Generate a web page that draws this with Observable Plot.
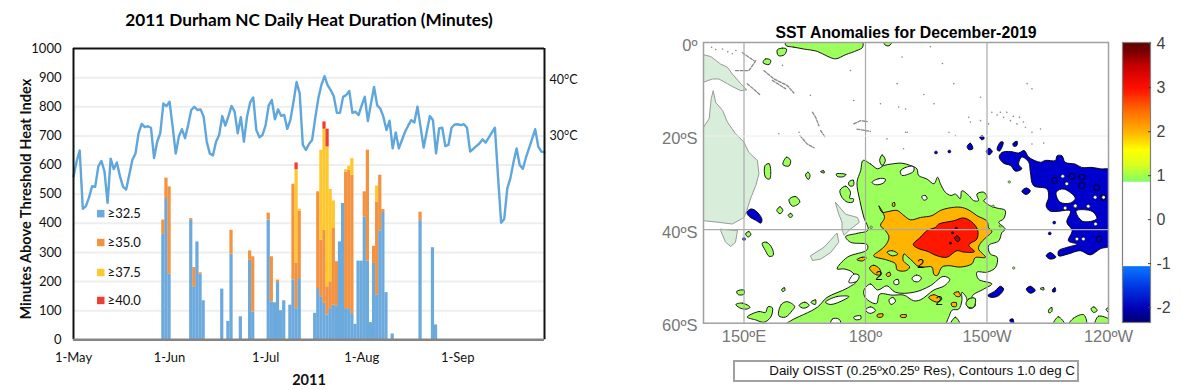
<!DOCTYPE html>
<html><head><meta charset="utf-8">
<script src="https://cdn.jsdelivr.net/npm/d3@7"></script>
<script src="https://cdn.jsdelivr.net/npm/@observablehq/plot@0.6"></script>
<style>
html,body{margin:0;padding:0;background:#fff;overflow:hidden}
#root{position:relative;width:1181px;height:390px}
#root svg{position:absolute;top:0;background:transparent}
#cap{position:absolute;left:733px;top:360px;width:340px;height:18px;border:2px solid #a0a0a0;background:#fff;font:13.4px "Liberation Sans",sans-serif;line-height:18px;text-align:right;padding-right:2px;color:#111;white-space:nowrap}
</style></head><body><div id="root"><div id="cap">Daily OISST (0.25ºx0.25º Res), Contours 1.0 deg C</div></div>
<script>
// ---------- left chart data ----------
const lineValues=[561,612,650,450,459,488,527,525,595,614,578,470,622,586,609,561,525,516,567,618,639,709,741,730,733,728,624,680,709,811,802,817,732,639,698,723,692,737,789,800,789,791,766,680,639,633,680,703,768,735,768,803,783,709,764,680,766,815,832,720,695,703,737,805,823,757,791,769,772,724,755,817,885,845,669,652,672,686,760,828,875,905,874,857,836,779,779,834,840,854,779,783,771,805,834,751,811,868,805,794,766,720,752,657,712,657,686,714,735,754,746,800,731,660,714,768,754,640,726,728,665,669,728,739,740,737,740,728,646,655,665,674,688,677,694,711,728,560,402,415,520,555,610,657,600,587,625,657,690,723,663,646,644];
const barDays =[29,30,31,38,39,40,41,42,48,50,51,54,57,58,63,64,65,66,67,68,70,71,72,73,78,79,80,81,82,83,84,85,86,87,88,89,90,91,92,93,94,95,96,97,98,99,100,101,103,112,116,117];
const blueTop =[362,485,225,410,180,336,225,134,174,63,294,79,273,95,411,130,127,197,100,134,119,206,107,210,91,176,148,125,85,107,119,117,336,468,107,107,90,53,270,270,422,270,59,262,153,374,437,162,20,409,316,51];
const orangeTop=[411,555,525,416,248,null,230,null,null,null,376,null,305,285,435,285,null,205,null,null,null,534,262,441,null,508,342,376,182,199,382,268,null,null,576,582,565,null,null,null,508,651,null,321,473,565,447,null,null,438,null,null];
const yellowTop=[null,null,null,null,null,null,null,null,null,null,null,null,null,null,null,null,null,null,null,null,null,null,584,448,null,null,651,723,662,516,477,null,null,null,584,596,622,null,null,null,null,null,null,null,528,null,null,null,null,null,null,null];
const redTop  =[null,null,null,null,null,null,null,null,null,null,null,null,null,null,null,null,null,null,null,null,null,null,607,null,null,null,null,748,723,null,null,null,null,null,null,null,null,null,null,null,null,null,null,null,null,null,null,null,null,null,null,null];
const legendLabels=["≥32.5","≥35.0","≥37.5","≥40.0"];
const legendColors=["#6CA9DD","#F39240","#FFC72E","#EE3E34"];
const legendY=[433,334,231,135];
const tempLabels=["40°C","30°C"];
const tempY=[893,701];
const monthTicks=[0,31,62,93,124];
const monthLabels=["1-May","1-Jun","1-Jul","1-Aug","1-Sep"];

// ---------- map data (lon east 0-360, lat) ----------
const greenAreas=[
[[179.4,-25.2],[181.2,-25.95],[183,-27],[184.5,-26.3],[186.6,-25.95],[189,-25.8],[191.1,-26.3],[192.7,-27],[193.1,-28.4],[195.2,-29.2],[196.9,-30.2],[197.8,-28.8],[198.5,-30.2],[199.7,-32],[201.1,-32.7],[202.2,-32.4],[203.4,-33.4],[203.8,-31.7],[205.5,-32.7],[206.7,-33.8],[207.9,-33.8],[207.5,-32.4],[209.2,-32],[210,-33.1],[209.2,-33.8],[210.8,-34.9],[212.5,-35.4],[214.5,-35.9],[214.1,-37.7],[212.9,-38.4],[214.5,-39.9],[213.7,-40.6],[212.9,-42.4],[210.4,-43.4],[210.8,-45.2],[212.5,-45.9],[212.1,-48.1],[210,-49.1],[207.5,-49.1],[207.9,-50.6],[211.2,-51.6],[209.2,-52.7],[206.3,-54.3],[207.1,-56.3],[205.5,-56.8],[204.9,-54.5],[203.8,-53.4],[203.8,-55.2],[203,-57],[201.4,-57.2],[200.5,-58.8],[199.3,-60.5],[180,-60.5],[160,-60.5],[161.5,-59.5],[168.1,-56.6],[170.5,-54.5],[175.5,-52.5],[177.9,-50.9],[176.7,-49.1],[174.7,-48.4],[173,-48.4],[175.5,-45.9],[180.4,-44.3],[180.4,-43.2],[176.3,-42.7],[175.1,-41.5],[177.9,-40.8],[180.6,-40.1],[179.6,-37.4],[178.6,-33.8],[177.9,-29.9],[178.8,-27.4]],
[[160.3,-0.6],[162.3,-1],[164.8,-1.4],[168.1,-1.9],[170.5,-2.9],[172.6,-3.5],[175.1,-2.6],[177.9,-1.7],[179.3,-1],[179,0.5],[160.5,0.5]],
[[158.2,-1.6],[159.5,-1.2],[160.5,-1.4],[160,-2.6],[158.5,-2.8]],
[[184.5,0.4],[186.7,0.4],[185.8,-0.7],[184.8,-0.5]],
[[154.7,-4.3],[155.3,-3.5],[156.6,-3.8],[156.2,-4.7]],
[[155.2,-26.3],[156.2,-25.9],[156.6,-27.4],[156.3,-29.2],[155.3,-28.8]],
[[159.6,-26.1],[160.5,-24.5],[161.5,-25.2],[161.1,-26.4]],
[[165.2,-28.3],[165.8,-27.7],[166.3,-28.4],[165.9,-29.3]],
[[168.9,-27.6],[169.7,-27.4],[169.8,-27.9]],
[[172.8,-28.1],[175.2,-28.2],[174.5,-28.7],[173,-28.6]],
[[175.9,-29.8],[177,-29.4],[177,-30.6],[176,-30.6]],
[[173.7,-31.6],[175.1,-30.7],[176.3,-32],[176.1,-33.3],[177,-33.4],[176.9,-34.1],[175.5,-34.1],[174.2,-33.1]],
[[161.1,-33.6],[162.7,-32.9],[163.8,-34.1],[162,-35]],
[[158.1,-35.9],[158.9,-35.1],[159.6,-35.9],[158.9,-36.6]],
[[160.9,-37],[161.5,-36.5],[162,-37],[161.5,-37.4]],
[[150.4,-40.9],[151.2,-40.4],[151.7,-41],[151,-41.6]],
[[154.5,-42.9],[155.6,-42.7],[157,-44.1],[157.2,-45.5],[156.2,-45.7],[155.3,-44.5]],
[[148.2,-53.2],[150,-52.9],[150,-53.8],[148.6,-53.9]],
[[148,-56],[149.6,-55.7],[151.5,-56.6],[150.5,-57],[148.9,-56.7]],
[[150.8,-58.7],[153.7,-57.5],[155.3,-57.7],[155.9,-56.5],[157,-56.7],[156.6,-58.7],[154.9,-59.8],[152.9,-59.3]],
[[158.6,-58.4],[159.2,-56],[160.6,-55.4],[162.5,-56.4],[161.9,-57.3],[160.2,-58.7]],
[[163.6,-56.2],[165,-55.5],[166.1,-56.2],[164.7,-56.8]],
[[166.5,-55.5],[167.7,-55],[167.6,-56]],
[[159.3,-52.8],[160,-52.4],[160.1,-53],[159.5,-53.2]],
[[226.3,-60.5],[227.6,-58.6],[229.3,-60.5]],
[[230.1,-60.5],[231.4,-58.9],[233.9,-58.2],[234.5,-60.5]],
[[236.7,-60.5],[237.5,-58.5],[240.5,-59.4],[240.5,-60.5]],
[[235.7,-56.9],[236.4,-56.5],[237.2,-57.3],[236.3,-57.7]],
[[225.2,-57.2],[226,-56.6],[226,-57.5],[225.3,-57.8]],
[[239.4,-57],[240.5,-56.6],[240.5,-58]],
[[223.1,-52.6],[224,-52.4],[224,-52.9]],
[[204.8,-55.9],[205.5,-54.8],[207.1,-54.7],[206.7,-56.6],[205.5,-56.6]],
[[200.9,-60.5],[202.2,-58.7],[203.4,-60.5]],
[[183.5,-25.2],[184.1,-24],[184.9,-25.2],[184.1,-26.3]]
];
const whiteAreas=[
[[188.6,-27.5],[189.9,-26.7],[191.8,-26.5],[191.9,-27.5],[190.4,-28.2],[189,-28.4]],
[[181.6,-29.9],[183.3,-29.1],[184.9,-29.2],[184.5,-30],[182.5,-30.4]],
[[193.9,-32.9],[194.8,-32.7],[195.2,-33.4],[194.4,-33.7]],
[[191.5,-50.4],[192.6,-49.7],[193.8,-50.3],[193.1,-51.1],[191.9,-51]],
[[187,-51],[188,-50.6],[188.2,-51.6],[187.2,-51.7]],
[[179.6,-53],[181.2,-51.6],[183,-52.9],[185.3,-52],[187.4,-53.4],[191.9,-53.4],[196,-52],[199.2,-50],[200.8,-50.6],[199.5,-52],[196.9,-52.9],[193.6,-55],[191.9,-55.2],[189.5,-54],[186.6,-54],[183.5,-53.8],[182.7,-55.8],[180,-54.6]],
[[185.8,-55],[186.8,-54.5],[187.4,-55.3],[186.3,-56]],
[[180,-57.2],[181.2,-56.5],[182.5,-57.3],[181.1,-57.9]],
[[171.4,-60.5],[171.8,-59.1],[173.4,-59.1],[174,-60.5]],
[[175.9,-51.3],[177.1,-49.5],[178.4,-49.8],[177.9,-51]],
[[170.1,-55.5],[173,-54.3],[175.9,-54.3],[174.7,-55],[171.4,-56]],
[[177.1,-58.7],[178.8,-58.4],[178.8,-59.1],[177.4,-59.2]]
];
const orangeAreas=[
[[183.3,-34.9],[184.1,-36.3],[185.8,-36.1],[187.8,-35.9],[189.5,-37],[191.1,-37.9],[193.6,-37.4],[196.4,-37],[198.5,-35.9],[200.5,-35.4],[203.4,-35.2],[205.5,-35.8],[207.5,-37],[210,-38.2],[210.4,-39.6],[211.2,-40.4],[209.6,-41.8],[208.4,-42.9],[207.9,-44.1],[209.6,-45.9],[207.1,-46],[206.3,-47.3],[203.4,-48],[200.5,-47.7],[198.9,-48],[197.7,-49.8],[196.9,-49.6],[196.4,-48],[194.4,-48],[192.7,-47.7],[191.9,-47],[190.4,-45.8],[189.5,-45.2],[189.3,-46.6],[190.9,-48],[189.9,-48.8],[187.8,-48.6],[187.4,-47.3],[185.3,-46.5],[182,-45.6],[183.3,-44.6],[184.9,-43.4],[185.8,-41.6],[184.9,-40.2],[183.7,-39.1],[184.7,-37.4]],
[[177.9,-46.4],[179.2,-45.9],[180.2,-46],[179.2,-46.7]],
[[181,-48.2],[182,-47.6],[183.5,-48.4],[183.7,-49.6],[182.5,-49.6]],
[[185.1,-49.5],[186,-49.1],[186.2,-49.8],[185.4,-50]],
[[195.6,-54.5],[196.9,-53.9],[198.5,-54.8],[197.7,-55.5]],
[[201.8,-53.6],[203,-53.3],[203.4,-54.2],[202.5,-54.3]],
[[201.2,-55.7],[202.4,-55.6],[202.4,-56.4],[201.4,-56.4]],
[[182.9,-58.2],[184.3,-58],[184.2,-58.6],[183,-58.7]],
[[188.6,-58.3],[190.1,-58.2],[190,-58.7],[188.7,-58.7]],
[[186.7,-34.3],[187.2,-34.2],[187.2,-35],[186.7,-35]]
];
const orangeHoles=[[[185.3,-44.8],[186.6,-44.5],[188,-45.2],[186.6,-45.6]]];
const redAreas=[[[191.8,-43.2],[193.6,-41.6],[195.2,-40.2],[197.3,-39.5],[198.1,-38.8],[201.8,-38.1],[204.2,-37.5],[206.3,-38.4],[207.7,-40.1],[207.5,-42],[205.5,-43.3],[206.9,-44.7],[204.2,-44.8],[202.6,-44.5],[200.1,-45.9],[197.7,-45.6],[195.2,-44.6],[193.2,-44.1]]];
const darkAreas=[[[202,-41.8],[202.6,-41.3],[203.3,-42],[202.8,-42.6]]];
const redSpots=[[202.4,-39.7],[201.5,-40.7],[201,-42.9]];
const contourLabels=[[183.3,-49.8],[193.6,-47.4],[198.2,-55.2]];
const blueAreas=[
[[213,-24.5],[213.7,-23.5],[215.8,-23.3],[217.8,-23.6],[219.2,-23.1],[220.3,-24.5],[223.2,-25.6],[224.4,-25.2],[226.9,-25.2],[227.3,-24.2],[228.5,-24.2],[229.3,-25.6],[231.8,-26],[233.4,-26.7],[235.9,-26.7],[238,-27],[241,-27.4],[241,-43.1],[238,-44.1],[235.5,-45.4],[233,-44.5],[230.1,-45.2],[227.7,-45.6],[227.7,-44.5],[229.7,-43.8],[232.2,-43.1],[230.1,-42.4],[231,-40.2],[229.7,-38.4],[230.6,-36],[227.3,-36.1],[225.5,-36],[224.6,-34.9],[225.2,-33.1],[224.8,-31.3],[221.5,-30.6],[220.7,-27.7],[220.3,-25.6],[218.6,-24.5],[217.8,-26],[218.6,-27],[217,-27.5],[215.8,-26.3],[214.1,-25.8]],
[[205.1,-22.2],[205.9,-21.5],[206.5,-22.7],[205.5,-22.9]],
[[208.2,-20.2],[208.9,-19.9],[209.3,-20.5],[208.7,-20.8]],
[[209.8,-23.3],[210.5,-22.6],[211.3,-23.3],[210.5,-24]],
[[212.5,-22.9],[213.3,-21.3],[214,-21.3],[213.1,-23.2]],
[[216.4,-21.6],[217.4,-21.1],[217.4,-22],[216.6,-22.2]],
[[218.6,-31.8],[219.7,-31.1],[220.7,-31.7],[219.7,-32.5]],
[[224.6,-45.6],[225.6,-44.9],[227,-45.9],[225.6,-46.3]],
[[210.2,-54.1],[212,-53.1],[213.3,-52.1],[214.1,-52.7],[212.9,-54.1],[211.2,-54.5]],
[[219.7,-52.7],[220.7,-52.1],[221.9,-53],[220.7,-53.6]],
[[226.2,-52.8],[226.8,-52.4],[226.9,-53.2],[226.2,-53.3]],
[[215.6,-59.3],[216.4,-59.1],[216.6,-60.5]],
[[150.7,-36.3],[151.7,-35.6],[152.8,-35.9],[154.4,-37.7],[154.2,-38.6],[152.9,-38],[151.3,-37.2]]
];
const blueHoles=[
[[227.1,-32],[228.9,-31.3],[231.8,-33.3],[230.6,-34.3],[228,-34.1]],
[[232,-36],[236,-36.1],[237.1,-37.7],[233.6,-38.2]]
];
const blueWhiteSpots=[[228.7,-28.6],[229.7,-30.2],[236.7,-33.1],[238.8,-33.1],[231.8,-35],[235,-35],[229.3,-35.4],[231.8,-34.9],[236.8,-38.8],[232.2,-42],[233.8,-42]];
const blueContours=[[226.7,-29.5],[231,-28.6],[233.4,-28.8],[233.4,-30.6],[237.1,-31],[238.6,-33.1],[237.7,-42]];
const blueSpots=[[197.4,-23.5],[200.7,-23.3],[150,-42],[226.6,-38.5],[225.5,-40.8]];
const greenSpots=[[213.3,-39.2],[216.6,-48.2],[181.4,-39.5],[211.5,-35],[215.5,-29.8]];
const landAreas=[
[[139,-2.4],[141.8,-3],[144.2,-4.6],[145.9,-5.3],[147.1,-6.7],[149.2,-8.8],[150.7,-10.1],[149.2,-10.3],[147.1,-9.4],[145.9,-8.8],[143.8,-7.8],[142.2,-7.8],[139,-8.8]],
[[139,-18.1],[140,-18.1],[141.4,-16.3],[141.9,-12],[142.4,-10.3],[143,-12.8],[144.7,-14.5],[145.9,-17],[147.9,-19.5],[150,-21.3],[151.2,-23.5],[153.3,-25.2],[153.7,-28.1],[152.9,-30.6],[151.6,-33.4],[150.7,-35.9],[150,-37.4],[147.1,-38.8],[143.4,-38.4],[140,-38.1],[139,-38.1]],
[[144.2,-39.9],[148.4,-40.2],[147.9,-42.7],[146.7,-43.6],[145.5,-42.7]],
[[172.6,-34.2],[175.1,-36.7],[178,-37.4],[178.5,-38.4],[176.3,-39.9],[174.7,-41.2],[174.2,-40],[174.2,-38.4],[173.4,-36.7]],
[[173,-40.8],[173.4,-42.7],[171.4,-44.9],[168.9,-46.3],[166.9,-46.6],[166.4,-45.6],[169.7,-43.8]]
];
const islandChains=[
[[147.9,-6],[151.2,-6],[152.9,-3.9]],
[[149.6,-2.2],[152.5,-3.9]],
[[154.9,-6],[157.4,-7.8],[160.7,-9.2],[162.3,-10.8]],
[[157,-8.1],[160.3,-9.9]],
[[150.8,-8.8],[154.1,-11.3]],
[[166.9,-14.9],[167.7,-16],[168.5,-17.8]],
[[168.9,-18.8],[170,-20.2]],
[[163.8,-19.9],[165.6,-21.7],[167.3,-22.5]],
[[177.1,-17.4],[178.8,-16.7],[180.4,-16.9]],
[[177.9,-18.5],[181.2,-19]]
];
const islandDots=[[211.2,-14.9],[213.3,-14.9],[214.9,-14.9],[214.1,-16],[215.8,-16.7],[217.4,-17.4],[219.5,-18.1],[221.1,-19.2],[223.2,-18.5],[205.9,-17],[208.4,-16.7],[210.4,-17.4],[219.9,-8.8],[221.1,-9.9],[201.8,-8.8],[208.4,-11.7],[205.5,-16],[194.4,-11.1],[196.9,-13.1],[200.6,-19.2],[202.2,-19.9],[221.1,-21.7],[224,-21.5],[189.9,-14.2],[189.9,-19.2],[144.7,-1.4],[147.1,-2.4],[159.5,-4.9],[166.4,-11.3],[176.3,-6],[177.1,-12.4],[183.7,-13.1],[188.2,-13.8],[189.4,-22.7],[185.3,-20.6],[190.3,-19.2],[189,-3.1],[187.8,-8.8],[158.6,-19.5],[163.6,-19.2],[212.5,-15.5],[216.5,-15.8],[218,-16],[219,-17],[142,-1],[143,-1.5],[146,-2],[148,-1.7],[196,-0.9],[199,-4.5]];
const lonTicks=[150,180,210,240];
const lonLabels=["150ºE","180º","150ºW","120ºW"];
const latTicks=[0,-20,-40,-60];
const latLabels=["0º","20ºS","40ºS","60ºS"];

// ---------- colour bar data ----------
const barStops=[-2.34,-2,-1.5,-1.04,-1.03,0.85,0.85,1,1.25,1.6,2,2.5,3,3.5,3.85,4.03];
const barColors=["#00006e","#0000b4","#0038e6","#0a78ff","#ffffff","#ffffff","#78ff70","#9cff50","#d8ff20","#ffff00","#ffb400","#ff6a00","#ff1000","#c80000","#780000","#640000"];
const barTicks=[-2,-1,0,1,2,3,4];
const barLevels=[-2.3,-2.25,-2.2,-2.15,-2.1,-2.05,-2,-1.95,-1.9,-1.85,-1.8,-1.75,-1.7,-1.65,-1.6,-1.55,-1.5,-1.45,-1.4,-1.35,-1.3,-1.25,-1.2,-1.15,-1.1,0.9,0.95,1,1.05,1.1,1.15,1.2,1.25,1.3,1.35,1.4,1.45,1.5,1.55,1.6,1.65,1.7,1.75,1.8,1.85,1.9,1.95,2,2.05,2.1,2.15,2.2,2.25,2.3,2.35,2.4,2.45,2.5,2.55,2.6,2.65,2.7,2.75,2.8,2.85,2.9,2.95,3,3.05,3.1,3.15,3.2,3.25,3.3,3.35,3.4,3.45,3.5,3.55,3.6,3.65,3.7,3.75,3.8,3.85,3.9,3.95,4];

// ---------- left chart ----------
const segs=[];
barDays.forEach((d,i)=>{
  let prev=0;
  [blueTop,orangeTop,yellowTop,redTop].forEach((arr,k)=>{
    const t=arr[i];
    if(t!=null){segs.push({d,y1:prev,y2:t,c:legendColors[k]});prev=t;}
  });
});
const linePts=lineValues.map((v,d)=>({d,v}));
const grid=[100,200,300,400,500,600,700,800,900];
const left=Plot.plot({
  width:600,height:390,marginLeft:73,marginRight:56,marginTop:48,marginBottom:50.7,
  style:{fontFamily:"Lato",fontSize:"13px",color:"#111",background:"transparent"},
  x:{domain:[0,152],axis:null},
  y:{domain:[0,1000],axis:null},
  marks:[
    Plot.ruleY(grid,{stroke:"#eeeeee",strokeWidth:2}),
    Plot.rect(segs,{x1:d=>d.d-0.52,x2:d=>d.d+0.52,y1:"y1",y2:"y2",fill:"c"}),
    Plot.line(linePts,{x:"d",y:"v",stroke:"#5FA6DD",strokeWidth:2.4,curve:"linear"}),
    Plot.ruleX([0,152],{stroke:"#111",strokeWidth:2}),
    Plot.ruleY([1000],{stroke:"#111",strokeWidth:2}),
    Plot.ruleY([0],{stroke:"#858585",strokeWidth:2.5}),
    Plot.axisY({ticks:[0,...grid,1000],tickFormat:d=>String(d),tickSize:0,tickPadding:12,label:null}),
    Plot.axisX({ticks:monthTicks,tickFormat:d=>monthLabels[monthTicks.indexOf(d)],tickSize:0,tickPadding:13,label:null}),
    Plot.dot(legendLabels,{x:()=>8.8,y:(d,i)=>legendY[i],symbol:"square",r:4.2,fill:(d,i)=>legendColors[i]}),
    Plot.text(legendLabels,{x:()=>11,y:(d,i)=>legendY[i],textAnchor:"start",fontSize:13}),
    Plot.text(tempLabels,{x:()=>152,y:(d,i)=>tempY[i],dx:5,textAnchor:"start",fontSize:12.5}),
    Plot.text(["2011 Durham NC Daily Heat Duration (Minutes)"],{frameAnchor:"top",dy:-28,lineAnchor:"middle",textAnchor:"middle",fontWeight:"bold",fontSize:17.2,fill:"#000",dx:0}),
    Plot.text(["2011"],{frameAnchor:"bottom",dy:41,lineAnchor:"middle",textAnchor:"middle",fontWeight:"bold",fontSize:14.5,fill:"#111"}),
    Plot.text(["Minutes Above Threshold Heat Index"],{frameAnchor:"left",dx:-47,dy:5,rotate:-90,lineAnchor:"middle",textAnchor:"middle",fontWeight:"bold",fontSize:14.6,fill:"#111"})
  ]
});
left.style.left="0px";
document.getElementById("root").appendChild(left);

// ---------- map ----------
const rows=(polys,tag)=>polys.flatMap((p,i)=>p.map(([x,y])=>({x,y,id:tag+i})));
const area=(polys,tag,fill,stroke="#000",sw=0.9,curve="catmull-rom-closed")=>Plot.line(rows(polys,tag),{x:"x",y:"y",z:"id",fill,stroke,strokeWidth:sw,curve,clip:true});
const fmt=(ticks,labels)=>d=>labels[ticks.indexOf(d)];
const map=Plot.plot({
  width:581,height:390,marginLeft:103,marginRight:73,marginTop:42,marginBottom:67.3,
  style:{fontFamily:"Liberation Sans",fontSize:"17px",color:"#777",background:"transparent"},
  x:{domain:[140,240],axis:null},
  y:{domain:[-60,0],axis:null},
  marks:[
    area(greenAreas,"g","#9DFF5C"),
    area(whiteAreas,"w","#ffffff"),
    area(orangeAreas,"o","#FFB400"),
    area(orangeHoles,"oh","#9DFF5C"),
    area(redAreas,"r","#FF1800"),
    area(darkAreas,"d","#A01010"),
    Plot.dot(redSpots,{x:"0",y:"1",r:1.4,fill:"#300"}),
    area(blueAreas,"b","#0000CC"),
    area(blueHoles,"bh","#ffffff"),
    Plot.dot(blueWhiteSpots,{x:"0",y:"1",r:1.8,fill:"#fff",stroke:"#000",strokeWidth:0.5}),
    Plot.dot(blueContours,{x:"0",y:"1",r:3,fill:"none",stroke:"#000",strokeWidth:0.9}),
    Plot.dot(blueSpots,{x:"0",y:"1",r:1.5,fill:"#0000CC",stroke:"#000",strokeWidth:0.5}),
    Plot.dot(greenSpots,{x:"0",y:"1",r:1.2,fill:"#9DFF5C",stroke:"#333",strokeWidth:0.6}),
    area(landAreas,"l","#D8EEDB","#8f8f8f",0.9,"linear-closed"),
    Plot.line(rows(islandChains,"c"),{x:"x",y:"y",z:"id",stroke:"#888",strokeWidth:1.3,strokeDasharray:"3,1.5",clip:true}),
    Plot.dot(islandDots,{x:"0",y:"1",r:0.8,fill:"#888"}),
    Plot.text(contourLabels,{x:"0",y:"1",text:()=>"2",fontSize:13,fill:"#000"}),
    Plot.ruleX([150,180,210],{stroke:"#aaaaaa",strokeWidth:1.2}),
    Plot.ruleY([-40],{stroke:"#aaaaaa",strokeWidth:1.2}),
    Plot.ruleY([-20],{stroke:"#eeeeee",strokeWidth:1}),
    Plot.frame({stroke:"#a0a0a0",strokeWidth:1.5}),
    Plot.axisX({ticks:lonTicks,tickFormat:fmt(lonTicks,lonLabels),tickSize:0,tickPadding:7,label:null,fontSize:16.5}),
    Plot.axisY({ticks:latTicks,tickFormat:fmt(latTicks,latLabels),tickSize:0,tickPadding:6,label:null,dy:3,fontSize:16.5}),
    Plot.text(["SST Anomalies for December-2019"],{frameAnchor:"top",dy:-10,lineAnchor:"middle",textAnchor:"middle",fontWeight:"bold",fontSize:15.8,fill:"#000"})
  ]
});
map.style.left="600px";
document.getElementById("root").appendChild(map);

// ---------- colour bar ----------
const barColor=d3.scaleLinear().domain(barStops).range(barColors);
const barRows=barLevels.map(v=>({v,c:barColor(v)}));
const cbar=Plot.plot({
  width:81,height:390,marginLeft:22,marginRight:31,marginTop:42,marginBottom:68,
  style:{fontFamily:"Liberation Sans",fontSize:"16px",color:"#444",background:"transparent"},
  color:{type:"identity"},
  x:{domain:[0,1],axis:null},
  y:{domain:[-2.34,4.03],axis:null},
  marks:[
    Plot.rect(barRows,{x1:()=>0,x2:()=>1,y1:d=>d.v-0.05,y2:d=>d.v+0.03,fill:"c"}),
    Plot.frame({stroke:"#808080",strokeWidth:1.2}),
    Plot.axisY({anchor:"right",ticks:barTicks,tickSize:-3,tickPadding:9,label:null,fontSize:16,tickFormat:d=>d<0?"-"+(-d):String(d)})
  ]
});
cbar.style.left="1100px";
document.getElementById("root").appendChild(cbar);
</script></body></html>
